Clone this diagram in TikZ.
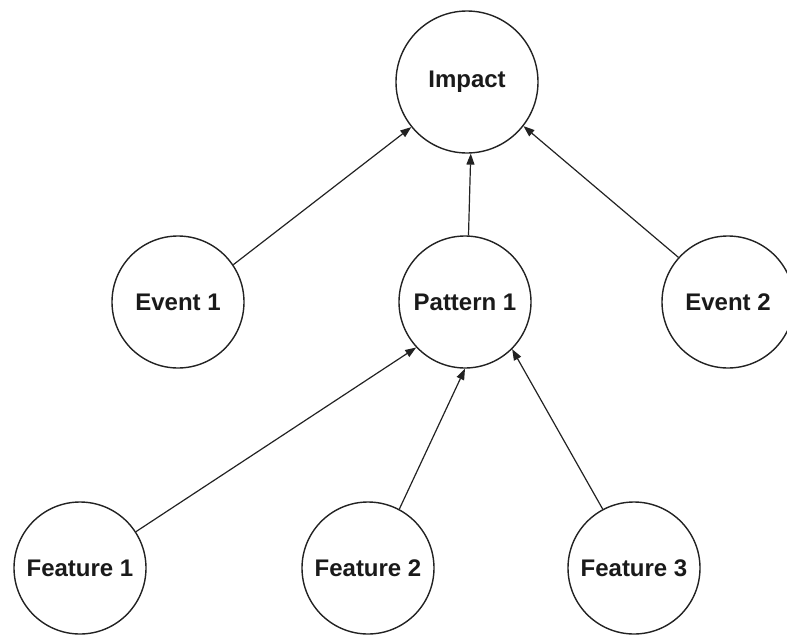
\documentclass[tikz,border=0pt]{standalone}
\usepackage{fontspec}
\setmainfont{Liberation Sans}
\usetikzlibrary{arrows.meta}
\definecolor{strokec}{HTML}{222222}
\definecolor{textc}{HTML}{1A1A1A}
\begin{document}
\begin{tikzpicture}[x=1pt,y=-1pt,
  bubble/.style={circle,draw=strokec,line width=1.4pt,fill=white,inner sep=0pt,
     minimum size=132pt,font=\fontsize{24}{27}\selectfont\bfseries,text=textc},
  bigbubble/.style={bubble,minimum size=142pt},
  link/.style={draw=strokec,line width=1.2pt,-{Triangle[length=11pt,width=8pt]}}]
\useasboundingbox (0,0) rectangle (787,635);
\node[bigbubble] (impact) at (467,82) {Impact};
\node[bubble] (event1) at (178,302) {Event 1};
\node[bubble] (pattern1) at (465,302) {Pattern 1};
\node[bubble] (event2) at (728,302) {Event 2};
\node[bubble] (feature1) at (80,568) {Feature 1};
\node[bubble] (feature2) at (368,568) {Feature 2};
\node[bubble] (feature3) at (634,568) {Feature 3};
\draw[link] (event1.34) -- (impact.219);
\draw[link] (pattern1.87) -- (impact.273);
\draw[link] (event2.138) -- (impact.322);
\draw[link] (feature1.33) -- (pattern1.223);
\draw[link] (feature2.62) -- (pattern1.270);
\draw[link] (feature3.118) -- (pattern1.315);
\end{tikzpicture}
\end{document}
